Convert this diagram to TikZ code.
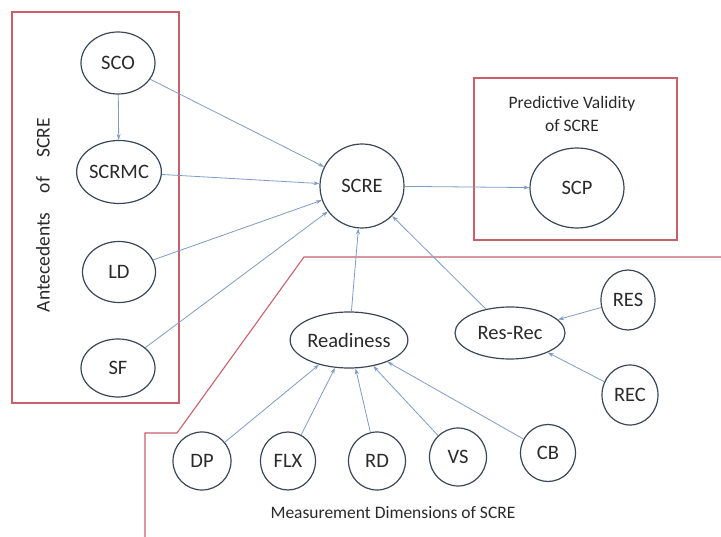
\documentclass[tikz,border=0pt]{standalone}
\usepackage{fontspec}
\setmainfont{Carlito}
\usetikzlibrary{shapes.geometric,arrows.meta}
\definecolor{frameRed}{HTML}{C8606C}
\definecolor{linkBlue}{HTML}{7E9CC4}
\definecolor{nodeLine}{HTML}{3A4656}
\definecolor{txt}{HTML}{2A2A2A}
\tikzset{
  var/.style={ellipse, draw=nodeLine, line width=1.2pt, inner sep=0pt,
              text=txt, font=\fontsize{20.5}{23}\selectfont},
  link/.style={draw=linkBlue, line width=0.8pt,
               -{Stealth[length=6pt,width=4pt]}},
  frame/.style={draw=frameRed, line width=1.1pt},
  caption/.style={text=txt, font=\fontsize{17.5}{23}\selectfont, align=center}
}
\begin{document}
\begin{tikzpicture}[x=1pt,y=-1pt]
\useasboundingbox (0,0) rectangle (721,537);

% group frames
\draw[frame] (12,12) rectangle (179,403);
\draw[frame] (474,78) rectangle (677,240);
\draw[frame] (721,257) -- (304,257) -- (177,433) -- (145,433) -- (145,537);

% group captions
\node[caption, rotate=90, font=\fontsize{19.5}{23}\selectfont] (antcap) at (43,215)
  {Antecedents\hspace{1em}of\hspace{1em}SCRE};
\node[caption] (pvcap) at (572,114) {Predictive Validity\\of SCRE};
\node[caption] (mdcap) at (393,513) {Measurement Dimensions of SCRE};

% antecedents
\node[var, minimum width=74, minimum height=62] (sco) at (118,63) {SCO};
\node[var, minimum width=75, minimum height=63] (scrmc) at (119,172) {SCRMC};
\node[var, minimum width=73, minimum height=61] (ld) at (119,272) {LD};
\node[var, minimum width=74, minimum height=58] (sf) at (118,368) {SF};

% core construct and outcome
\node[var, minimum width=84, minimum height=84] (scre) at (362,186) {SCRE};
\node[var, minimum width=94, minimum height=80] (scp) at (577,188) {SCP};

% measurement dimensions
\node[var, minimum width=100, minimum height=56] (ready) at (349,340) {Readiness};
\node[var, minimum width=110, minimum height=52] (resrec) at (510,333) {Res-Rec};
\node[var, minimum width=54, minimum height=60] (res) at (628,300) {RES};
\node[var, minimum width=56, minimum height=60] (rec) at (630,395) {REC};
\node[var, minimum width=58, minimum height=58] (dp) at (202,461) {DP};
\node[var, minimum width=55, minimum height=58] (flx) at (288,461) {FLX};
\node[var, minimum width=57, minimum height=58] (rd) at (377,461) {RD};
\node[var, minimum width=57, minimum height=58] (vs) at (458,457) {VS};
\node[var, minimum width=55, minimum height=57] (cb) at (548,453) {CB};

% paths
\draw[link] (sco) -- (scrmc);
\draw[link] (sco) -- (scre);
\draw[link] (scrmc) -- (scre);
\draw[link] (ld) -- (scre);
\draw[link] (sf) -- (scre);
\draw[link] (scre) -- (scp);
\draw[link] (ready) -- (scre);
\draw[link] (resrec) -- (scre);
\draw[link] (res) -- (resrec);
\draw[link] (rec) -- (resrec);
\draw[link] (dp) -- (ready);
\draw[link] (flx) -- (ready);
\draw[link] (rd) -- (ready);
\draw[link] (vs) -- (ready);
\draw[link] (cb) -- (ready);
\end{tikzpicture}
\end{document}
